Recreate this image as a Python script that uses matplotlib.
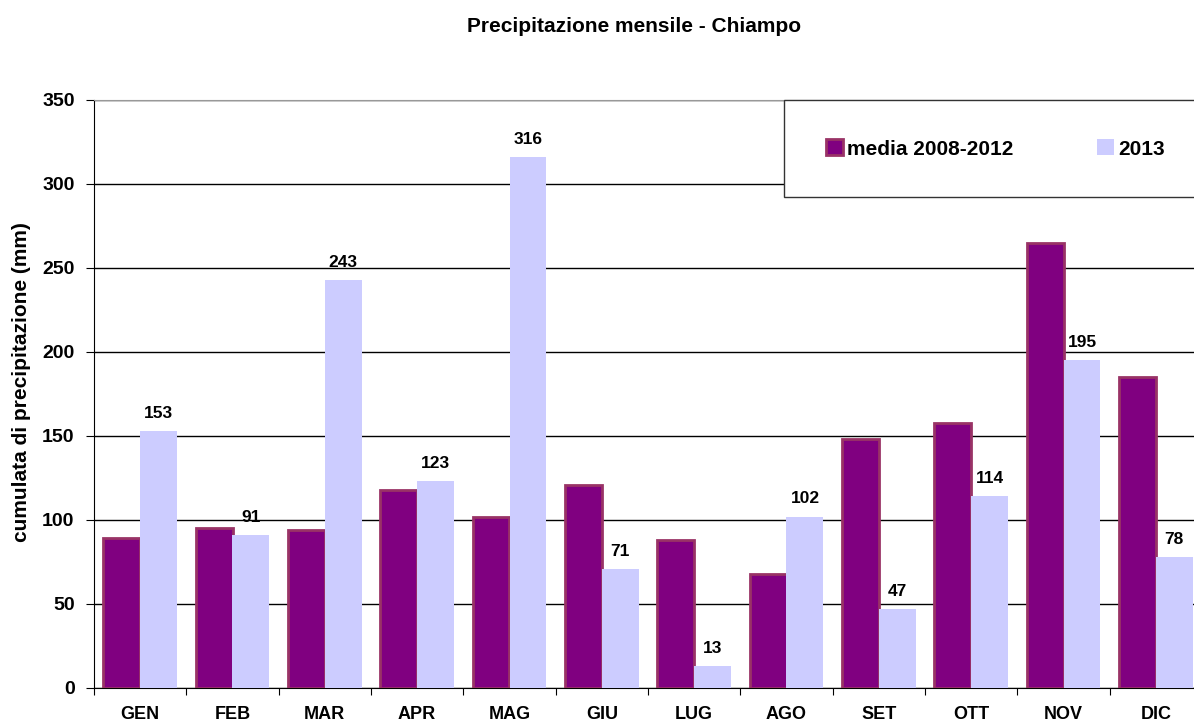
import matplotlib.pyplot as plt
import numpy as np
from matplotlib.patches import Rectangle

plt.rcParams['font.family'] = ['Liberation Sans', 'DejaVu Sans']
plt.rcParams['font.weight'] = 'bold'

mesi = ['GEN', 'FEB', 'MAR', 'APR', 'MAG', 'GIU', 'LUG', 'AGO', 'SET', 'OTT', 'NOV', 'DIC']
media = [89, 95, 94, 118, 102, 121, 88, 68, 148, 158, 265, 185]
anno2013 = [153, 91, 243, 123, 316, 71, 13, 102, 47, 114, 195, 78]

fig = plt.figure(figsize=(11.94, 7.22), dpi=100)
ax = fig.add_axes([94/1194, 1-688/722, 1108/1194, 588/722])

x = np.arange(len(mesi))
w = 0.4
b1 = ax.bar(x - w/2, media, w, color='#800080', edgecolor='#993366', linewidth=2,
            label='media 2008-2012', zorder=3)
b2 = ax.bar(x + w/2, anno2013, w, color='#CCCCFF', edgecolor='none',
            label='2013', zorder=3)

# etichette valori sul 2013
for xi, v in zip(x, anno2013):
    ax.annotate(str(v), (xi + w/2, v), xytext=(0, 9.5), textcoords='offset points',
                ha='center', va='baseline', fontsize=12.5, fontweight='bold')

ax.set_xlim(-0.5, len(mesi) - 0.5)
ax.set_ylim(0, 350)
ax.set_yticks(np.arange(0, 351, 50))
ax.yaxis.grid(True, color='black', linewidth=1, zorder=0)
ax.set_axisbelow(True)

# tick sui bordi delle categorie, etichette al centro
ax.set_xticks(np.arange(-0.5, len(mesi)), minor=False)
ax.set_xticklabels([])
ax.set_xticks(x, minor=True)
ax.set_xticklabels(mesi, minor=True, fontsize=13, fontweight='bold')
ax.tick_params(axis='x', which='major', length=5, direction='out', color='black')
ax.tick_params(axis='x', which='minor', length=0, pad=13)
ax.tick_params(axis='y', length=6, direction='out', labelsize=14, pad=8)
for t in ax.get_yticklabels():
    t.set_fontweight('bold')

ax.spines['right'].set_visible(False)
ax.spines['top'].set_color('#999999')
ax.spines['left'].set_color('black')
ax.spines['bottom'].set_color('black')

fig.text(22/1194, 1-382/722, 'cumulata di precipitazione (mm)', rotation=90,
         ha='center', va='center', fontsize=15, fontweight='bold')

fig.text(634/1194, 1-32/722, 'Precipitazione mensile - Chiampo', ha='center', va='baseline',
         fontsize=15, fontweight='bold')

# riquadro legenda
fig.patches.append(Rectangle((784/1194, 1-197/722), 420/1194, 97/722, transform=fig.transFigure,
                             facecolor='white', edgecolor='#333333', linewidth=1, zorder=5))
for h, xl in [(b1, 826), (b2, 1097)]:
    leg = fig.legend(handles=[h], loc='center left', bbox_to_anchor=(xl/1194, 1-149/722),
                     frameon=False, borderpad=0, borderaxespad=0,
                     handlelength=0.8, handleheight=0.8, handletextpad=0.2,
                     prop={'weight': 'bold', 'size': 15})
    leg.set_zorder(6)

fig.savefig('out.png', dpi=100)
